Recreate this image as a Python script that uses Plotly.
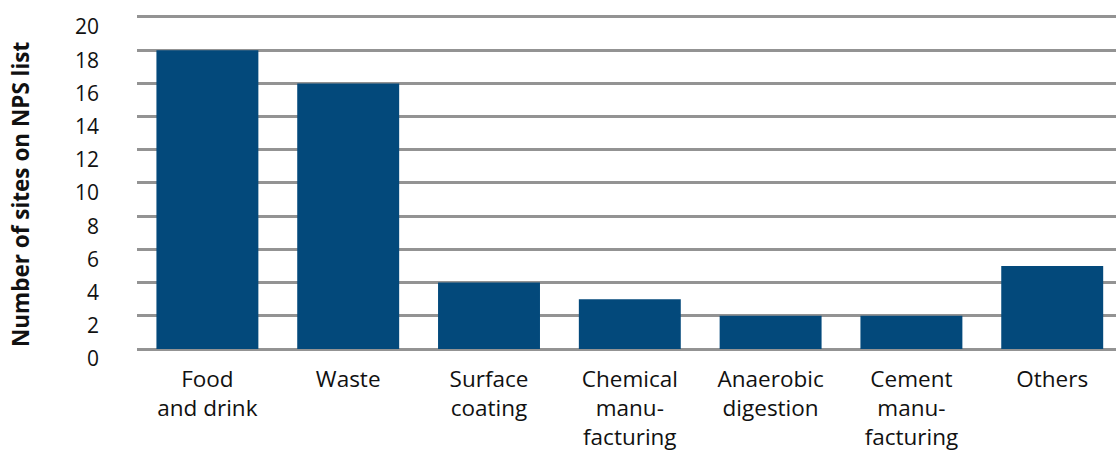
import plotly.graph_objects as go

categories = [
    "Food<br>and drink",
    "Waste",
    "Surface<br>coating",
    "Chemical<br>manu-<br>facturing",
    "Anaerobic<br>digestion",
    "Cement<br>manu-<br>facturing",
    "Others",
]
sites = [18, 16, 4, 3, 2, 2, 5]
y_ticks = [0, 2, 4, 6, 8, 10, 12, 14, 16, 18, 20]

BAR = "#03497b"
GRID = "#939393"
FONT = "Open Sans, Noto Sans, sans-serif"

x_pos = list(range(len(categories)))

fig = go.Figure(
    go.Bar(
        x=x_pos,
        y=sites,
        marker=dict(color=BAR, line=dict(width=0)),
        width=0.724,
    )
)

fig.update_layout(
    width=1116,
    height=450,
    margin=dict(l=137, r=0, t=14, b=101),
    plot_bgcolor="white",
    paper_bgcolor="white",
    showlegend=False,
    font=dict(family=FONT, color="#111111"),
    xaxis=dict(
        range=[-0.5, 6.453],
        automargin=False,
        tickmode="array",
        tickvals=x_pos,
        ticktext=categories,
        tickfont=dict(size=22.5, family=FONT, color="#111111"),
        showgrid=False,
        zeroline=False,
        showline=False,
        ticks="",
        ticklabelstandoff=14,
    ),
    yaxis=dict(
        range=[0, 20.18],
        automargin=False,
        tickmode="array",
        tickvals=y_ticks,
        ticktext=[str(v) for v in y_ticks],
        tickfont=dict(size=21, family=FONT, color="#111111"),
        showgrid=True,
        gridcolor=GRID,
        gridwidth=2.5,
        zeroline=True,
        zerolinecolor=GRID,
        zerolinewidth=2.5,
        showline=False,
        ticks="",
        ticklabelstandoff=37,
        ticklabelshift=10,
    ),
    annotations=[
        dict(
            text="<b>Number of sites on NPS list</b>",
            xref="paper",
            yref="paper",
            x=0,
            y=(450 - 194 - 101) / 335,
            xshift=-117,
            xanchor="center",
            yanchor="middle",
            textangle=-90,
            showarrow=False,
            font=dict(size=22.5, family=FONT, color="#111111"),
        )
    ],
)

fig.write_html("out.html")
